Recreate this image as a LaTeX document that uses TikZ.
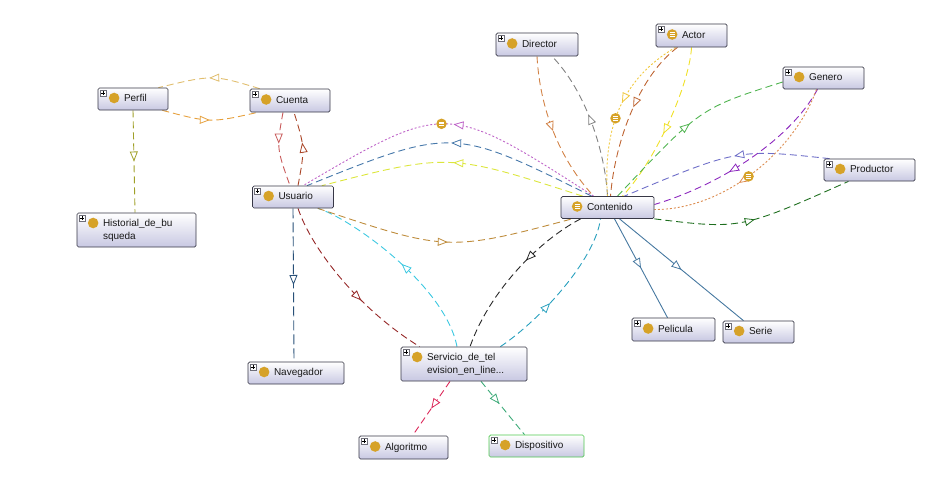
\documentclass[tikz,border=0pt]{standalone}
\usepackage{fontspec}
\setmainfont{Liberation Sans}
\usetikzlibrary{arrows.meta,decorations.markings}
\definecolor{boxbd}{RGB}{55,55,70}
\definecolor{boxbot}{RGB}{200,200,226}
\definecolor{gold}{RGB}{214,162,40}
\definecolor{txt}{RGB}{25,25,25}
\definecolor{cA}{RGB}{225,190,110}
\definecolor{cB}{RGB}{230,160,60}
\definecolor{cC}{RGB}{160,160,40}
\definecolor{cD}{RGB}{200,90,90}
\definecolor{cE}{RGB}{170,70,40}
\definecolor{cF}{RGB}{40,80,120}
\definecolor{cG}{RGB}{150,40,40}
\definecolor{cH}{RGB}{60,200,225}
\definecolor{cI}{RGB}{40,40,40}
\definecolor{cJ}{RGB}{40,160,190}
\definecolor{cK}{RGB}{190,140,60}
\definecolor{cL}{RGB}{220,230,60}
\definecolor{cM}{RGB}{70,120,170}
\definecolor{cN}{RGB}{190,100,200}
\definecolor{cO}{RGB}{210,130,70}
\definecolor{cP}{RGB}{130,130,130}
\definecolor{cQ}{RGB}{240,200,60}
\definecolor{cR}{RGB}{190,100,50}
\definecolor{cS}{RGB}{240,225,40}
\definecolor{cT}{RGB}{80,180,80}
\definecolor{cU}{RGB}{110,110,200}
\definecolor{cV}{RGB}{140,40,190}
\definecolor{cW}{RGB}{220,140,80}
\definecolor{cX}{RGB}{30,110,30}
\definecolor{cY}{RGB}{70,120,160}
\definecolor{cZ}{RGB}{220,40,90}
\definecolor{cAA}{RGB}{60,170,120}
\definecolor{dispbd}{RGB}{80,200,80}
\definecolor{plusbd}{RGB}{110,110,120}
\pgfdeclarelayer{bg}
\pgfsetlayers{bg,main}
\newcommand\lbl[2]{\makebox[#1][l]{\begin{tabular}{@{}l@{}}#2\end{tabular}}}
\newcommand\plusmark[1]{%
  \draw[line width=0.4pt, draw=plusbd, fill=white] ([xshift=2.5pt,yshift=-2.5pt]#1.north west) rectangle ++(6,6);
  \draw[line width=0.5pt, draw=black] ([xshift=5.5pt,yshift=-3.7pt]#1.north west) -- ++(0,3.6)
     ([xshift=3.7pt,yshift=-5.5pt]#1.north west) -- ++(3.6,0);}
\newcommand\dotmark[2]{\fill[gold] ([xshift=16.5pt,yshift=#2]#1.west) circle (5.3pt);}
\newcommand\eqmark[2]{\fill[gold] ([xshift=16.5pt,yshift=#2]#1.west) circle (5.3pt);
  \draw[white, line width=0.7pt] ([xshift=14pt,yshift=2.9pt]#1.west) -- ++(5,0)
     ([xshift=14pt,yshift=1pt]#1.west) -- ++(5,0) ([xshift=14pt,yshift=-0.9pt]#1.west) -- ++(5,0);}
\tikzset{
  cls/.style={draw=boxbd, line width=0.7pt, rounded corners=1.5pt, top color=white,
    bottom color=boxbot, inner sep=0pt, text=txt, font=\fontsize{10}{13}\selectfont},
  ldash/.style={draw=#1, line width=0.9pt, dash pattern=on 7pt off 4pt},
  ddot/.style={draw=#1, line width=0.9pt, dash pattern=on 2pt off 2pt},
  lsolid/.style={draw=#1, line width=0.9pt},
  marr/.style={postaction={decorate, decoration={markings, mark=at position #1 with
    {\arrow{Triangle[fill=white,length=10pt,width=8pt,line width=0.8pt]}}}}},
  eqic/.style={circle, fill=gold, draw=none, solid, inner sep=0pt, minimum size=10.5pt,
    path picture={\draw[white, solid, line width=0.7pt]
      ([xshift=-2.5pt,yshift=1.9pt]path picture bounding box.center) -- ++(5,0)
      ([xshift=-2.5pt]path picture bounding box.center) -- ++(5,0)
      ([xshift=-2.5pt,yshift=-1.9pt]path picture bounding box.center) -- ++(5,0);}}
}
\begin{document}
\begin{tikzpicture}[x=1pt,y=-1pt]
\useasboundingbox (0,0) rectangle (936,479);
% nodes
\node[cls, minimum width=70pt, minimum height=22pt] (perfil) at (133,99) {\lbl{18pt}{Perfil}};
\node[cls, minimum width=80pt, minimum height=23pt] (cuenta) at (290,100.5) {\lbl{28pt}{Cuenta}};
\node[cls, minimum width=119pt, minimum height=34pt] (historial) at (136.5,230) {\lbl{67pt}{Historial\_de\_bu\\squeda}};
\node[cls, minimum width=81pt, minimum height=22pt] (usuario) at (293,197) {\lbl{29pt}{Usuario}};
\node[cls, minimum width=96pt, minimum height=22pt] (navegador) at (296,373) {\lbl{44pt}{Navegador}};
\node[cls, minimum width=126pt, minimum height=34pt] (servicio) at (464,364) {\lbl{74pt}{Servicio\_de\_tel\\evision\_en\_line...}};
\node[cls, minimum width=89pt, minimum height=23pt] (algoritmo) at (403.5,447.5) {\lbl{37pt}{Algoritmo}};
\node[cls, draw=dispbd, minimum width=95pt, minimum height=22pt] (dispositivo) at (536.5,446) {\lbl{43pt}{Dispositivo}};
\node[cls, minimum width=93pt, minimum height=22pt] (contenido) at (607.5,207.5) {\lbl{41pt}{Contenido}};
\node[cls, minimum width=82pt, minimum height=23pt] (director) at (537,44.5) {\lbl{30pt}{Director}};
\node[cls, minimum width=71pt, minimum height=23pt] (actor) at (691.5,35.5) {\lbl{19pt}{Actor}};
\node[cls, minimum width=81pt, minimum height=22pt] (genero) at (823.5,78) {\lbl{29pt}{Genero}};
\node[cls, minimum width=91pt, minimum height=22pt] (productor) at (869.5,170) {\lbl{39pt}{Productor}};
\node[cls, minimum width=83pt, minimum height=23pt] (pelicula) at (673.5,329.5) {\lbl{31pt}{Pelicula}};
\node[cls, minimum width=71pt, minimum height=22pt] (serie) at (758.5,332) {\lbl{19pt}{Serie}};
% decorations
\foreach \n in {perfil,cuenta,historial,usuario,navegador,servicio,algoritmo,dispositivo,director,actor,genero,productor,pelicula,serie}{\plusmark{\n}}
\foreach \n in {perfil,cuenta,usuario,navegador,algoritmo,dispositivo,director,genero,productor,pelicula,serie}{\dotmark{\n}{1pt}}
\dotmark{historial}{7pt}
\dotmark{servicio}{7pt}
\eqmark{contenido}{1pt}
\eqmark{actor}{1pt}
% edges
\begin{pgfonlayer}{bg}
\draw[ldash=cA, marr=0.5] ([xshift=10pt]cuenta.north west) .. controls (213,74.5) .. ([xshift=-10pt]perfil.north east);
\draw[ldash=cB, marr=0.5] ([xshift=-6pt]perfil.south east) .. controls (210.5,123) .. ([xshift=8pt]cuenta.south west);
\draw[ldash=cC, marr=0.5] (perfil.south) -- ([xshift=-1.5pt]historial.north);
\draw[ldash=cD, marr=0.42] ([xshift=-7pt]cuenta.south) .. controls (276.5,148) .. ([xshift=-3pt]usuario.north);
\draw[ldash=cE, marr=0.58] ([xshift=5pt]usuario.north) .. controls (305,148) .. ([xshift=4pt]cuenta.south);
\draw[ldash=cF, dash pattern=on 10pt off 4pt, marr=0.5] (usuario.south) -- ([xshift=-2pt]navegador.north);
\draw[ldash=cG, marr=0.6] ([xshift=5pt]usuario.south) .. controls (312,250) and (360,310) .. ([xshift=19pt]servicio.north west);
\draw[ldash=cH, marr=0.5] ([xshift=-7pt]servicio.north) .. controls (445,285) and (350,218) .. ([xshift=-16pt]usuario.south east);
\draw[ldash=cI, marr=0.4] ([xshift=20pt]contenido.south west) .. controls (540,240) and (490,290) .. ([xshift=6pt]servicio.north);
\draw[ldash=cJ, marr=0.4] ([xshift=-27pt]servicio.north east) .. controls (540,320) and (595,260) .. ([xshift=-7pt]contenido.south);
\draw[ldash=cK, marr=0.5] ([xshift=-16pt]usuario.south east) .. controls (448,252) .. ([xshift=19pt,yshift=2pt]contenido.south west);
\draw[ldash=cL, marr=0.5] ([xshift=22pt]contenido.north west) .. controls (449,153) .. ([xshift=-12pt]usuario.north east);
\draw[ldash=cM, marr=0.5] ([xshift=31pt]contenido.north west) .. controls (452.7,127) .. ([xshift=14pt]usuario.north);
\draw[ddot=cN, marr=0.49] ([xshift=33pt]contenido.north west) .. controls (446.5,101.5) .. ([xshift=10pt]usuario.north) node[eqic, pos=0.525] (q1) {};
\draw[ldash=cO, marr=0.5] (director.south) .. controls (540,110) and (560,160) .. ([xshift=33pt]contenido.north west);
\draw[ldash=cP, marr=0.55] (contenido.north) .. controls (605,150) and (585,90) .. ([xshift=15pt]director.south);
\draw[ddot=cQ, marr=0.45] ([xshift=-16pt]actor.south) .. controls (620,80) and (603,130) .. (contenido.north) node[eqic, pos=0.56] (q2) {};
\draw[ldash=cR, marr=0.45] ([xshift=-14pt]actor.south) .. controls (640,75) and (615,140) .. ([xshift=3pt]contenido.north);
\draw[ldash=cS, marr=0.55] (actor.south) .. controls (690,80) and (660,155) .. ([xshift=15pt]contenido.north);
\draw[ldash=cT, marr=0.5] ([xshift=10pt]contenido.north) .. controls (700,108.2) .. ([yshift=-4pt]genero.west);
\draw[ldash=cU, marr=0.45] ([xshift=6pt]productor.north west) .. controls (737.7,148.7) .. ([xshift=-30pt]contenido.north east);
\draw[ldash=cV, marr=0.6] ([xshift=-6pt]genero.south) .. controls (790,140) and (720,185) .. ([yshift=3pt]contenido.east);
\draw[ddot=cW, marr=0.58] ([xshift=-7pt]genero.south) .. controls (795,150) and (725,210) .. ([yshift=-2pt]contenido.east) node[eqic, pos=0.53] (q3) {};
\draw[ldash=cX, marr=0.5] (contenido.south east) .. controls (740.3,229.5) .. ([xshift=-21pt]productor.south);
\draw[lsolid=cY, marr=0.5] ([xshift=7pt]contenido.south) -- ([xshift=-6pt]pelicula.north);
\draw[lsolid=cY, marr=0.5] ([xshift=12pt]contenido.south) -- ([xshift=-15pt]serie.north);
\draw[ldash=cZ, marr=0.5] ([xshift=-14pt]servicio.south) -- ([xshift=9pt]algoritmo.north);
\draw[ldash=cAA, marr=0.42] ([xshift=17pt]servicio.south) -- ([xshift=-12pt]dispositivo.north);
\end{pgfonlayer}
\end{tikzpicture}
\end{document}
